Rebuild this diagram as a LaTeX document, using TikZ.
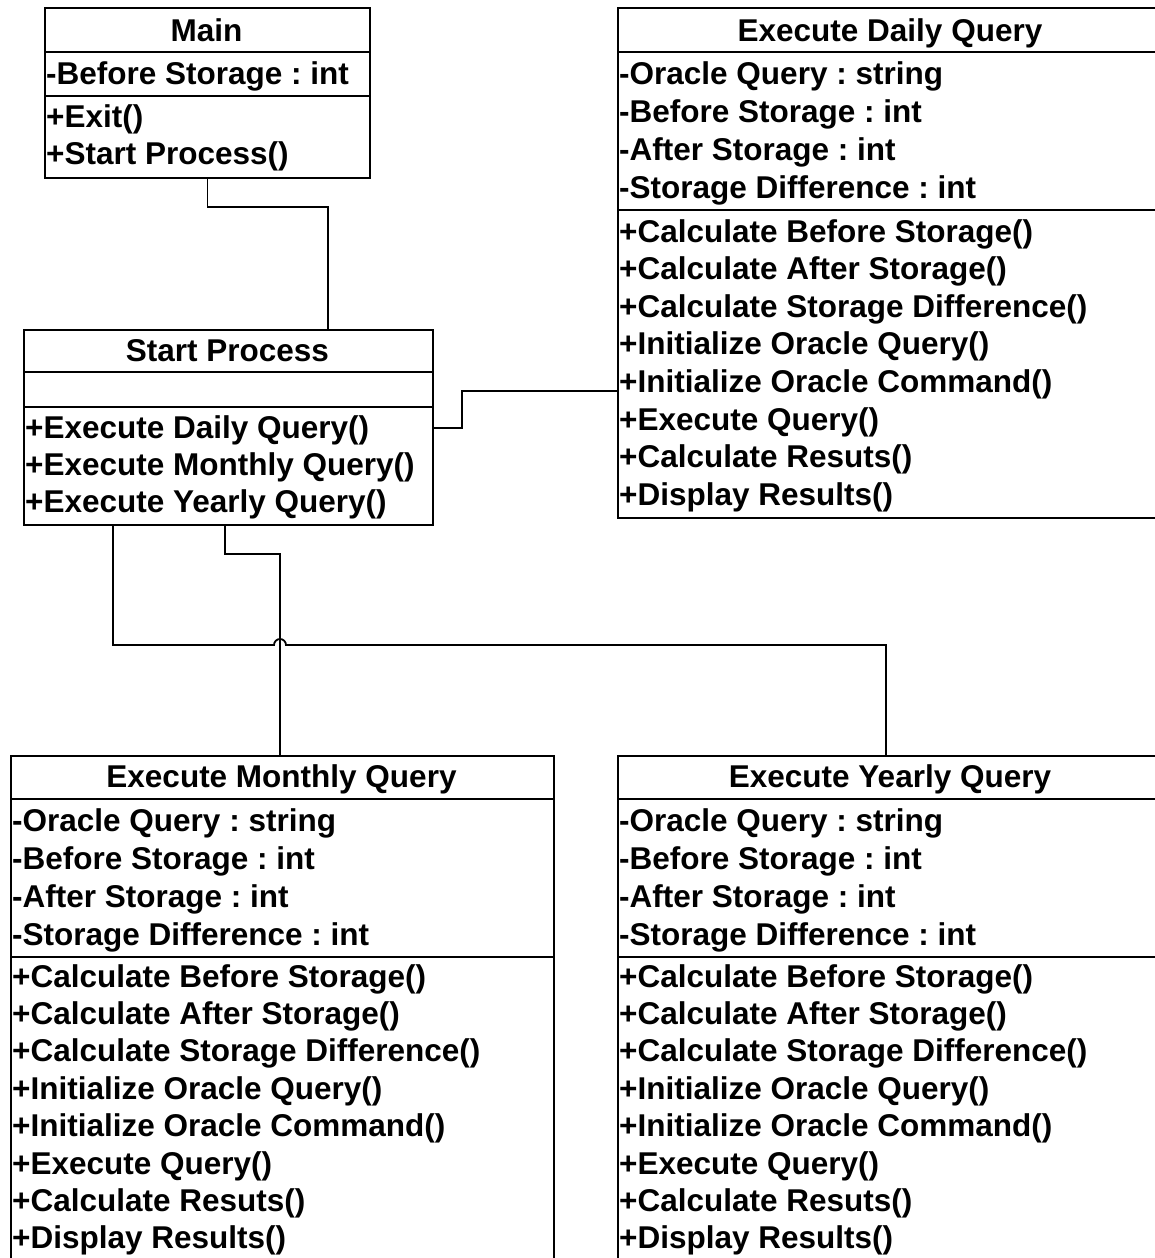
\documentclass[tikz,border=0pt]{standalone}
\usepackage{fontspec}
\setmainfont{Liberation Sans}
\usetikzlibrary{calc}
\frenchspacing
\tikzset{
  classbox/.style={draw=black, line width=2pt, inner sep=0pt, anchor=north west, fill=none},
  divline/.style={draw=black, line width=2pt},
  conn/.style={draw=black, line width=1.8pt},
  rowtext/.style={font=\fontsize{31.5}{37.7}\selectfont\bfseries\frenchspacing, inner sep=0pt, anchor=base west, text=black},
  titletext/.style={font=\fontsize{31.5}{37.7}\selectfont\bfseries\frenchspacing, inner sep=0pt, anchor=base, text=black}
}
\begin{document}
\begin{tikzpicture}[x=1pt, y=-1pt]
\useasboundingbox (0,0) rectangle (1155,1258);
\fill[white] (0,0) rectangle (1155,1258);

% ---------- Main ----------
\node[classbox, minimum width=325pt, minimum height=170pt] (main) at (44,7) {};
\draw[divline] (44,52) -- (369,52);
\draw[divline] (44,96) -- (369,96);
\node[titletext] (mainT) at (206.5,41) {Main};
\node[rowtext] (mainA1) at (46,84) {-Before Storage : int};
\node[rowtext] (mainM1) at (46,127) {+Exit()};
\node[rowtext] (mainM2) at (46,164) {+Start Process()};

% ---------- Start Process ----------
\node[classbox, minimum width=409pt, minimum height=195pt] (start) at (23,329) {};
\draw[divline] (23,372) -- (432,372);
\draw[divline] (23,407) -- (432,407);
\node[titletext] (startT) at (227.5,361) {Start Process};
\node[rowtext] (startM1) at (25,438) {+Execute Daily Query()};
\node[rowtext] (startM2) at (25,475) {+Execute Monthly Query()};
\node[rowtext] (startM3) at (25,512) {+Execute Yearly Query()};

% ---------- Execute Daily Query ----------
\node[classbox, minimum width=546pt, minimum height=510pt] (daily) at (617,7) {};
\draw[divline] (617,52) -- (1163,52);
\draw[divline] (617,210) -- (1163,210);
\node[titletext] (dailyT) at (890,41) {Execute Daily Query};
\foreach \t [count=\i] in {-Oracle Query : string,-Before Storage : int,-After Storage : int,-Storage Difference : int}
  \node[rowtext] (dailyA\i) at (619,{84+38*(\i-1)}) {\t};
\foreach \t [count=\i] in {+Calculate Before Storage(),+Calculate After Storage(),+Calculate Storage Difference(),+Initialize Oracle Query(),+Initialize Oracle Command(),+Execute Query(),+Calculate Resuts(),+Display Results()}
  \node[rowtext] (dailyM\i) at (619,{242+37.6*(\i-1)}) {\t};

% ---------- Execute Monthly Query ----------
\node[classbox, minimum width=543pt, minimum height=520pt] (monthly) at (10,755) {};
\draw[divline] (10,799) -- (553,799);
\draw[divline] (10,957) -- (553,957);
\node[titletext] (monthlyT) at (281.5,787) {Execute Monthly Query};
\foreach \t [count=\i] in {-Oracle Query : string,-Before Storage : int,-After Storage : int,-Storage Difference : int}
  \node[rowtext] (monthlyA\i) at (12,{831+38*(\i-1)}) {\t};
\foreach \t [count=\i] in {+Calculate Before Storage(),+Calculate After Storage(),+Calculate Storage Difference(),+Initialize Oracle Query(),+Initialize Oracle Command(),+Execute Query(),+Calculate Resuts(),+Display Results()}
  \node[rowtext] (monthlyM\i) at (12,{987+37.4*(\i-1)}) {\t};

% ---------- Execute Yearly Query ----------
\node[classbox, minimum width=546pt, minimum height=520pt] (yearly) at (617,755) {};
\draw[divline] (617,799) -- (1163,799);
\draw[divline] (617,957) -- (1163,957);
\node[titletext] (yearlyT) at (890,787) {Execute Yearly Query};
\foreach \t [count=\i] in {-Oracle Query : string,-Before Storage : int,-After Storage : int,-Storage Difference : int}
  \node[rowtext] (yearlyA\i) at (619,{831+38*(\i-1)}) {\t};
\foreach \t [count=\i] in {+Calculate Before Storage(),+Calculate After Storage(),+Calculate Storage Difference(),+Initialize Oracle Query(),+Initialize Oracle Command(),+Execute Query(),+Calculate Resuts(),+Display Results()}
  \node[rowtext] (yearlyM\i) at (619,{987+37.4*(\i-1)}) {\t};

% ---------- Connectors ----------
\coordinate (startIn) at ($(start.north west)+(305,0)$);
\coordinate (dailyIn) at ($(daily.north west)+(0,384)$);
\coordinate (monthIn) at ($(monthly.north west)+(270,0)$);
\coordinate (yearIn) at ($(yearly.north west)+(269,0)$);
\coordinate (startOutD) at ($(start.north east)+(0,99)$);
\coordinate (startOutY) at ($(start.south west)+(90,0)$);
\coordinate (startOutM) at ($(start.south west)+(202,0)$);

\draw[conn] (main.south) -- ++(0,28) -| (startIn);
\draw[conn] (startOutD) -- ++(28,0) |- (dailyIn);
\draw[conn] (startOutM) -- ++(0,28) -| (monthIn);
\draw[conn] (startOutY) -- ++(0,119) coordinate (yBend)
  -- ([xshift=-6pt]yBend -| monthIn) arc[start angle=180, end angle=0, radius=6pt]
  -- (yBend -| yearIn) -- (yearIn);
\end{tikzpicture}
\end{document}
